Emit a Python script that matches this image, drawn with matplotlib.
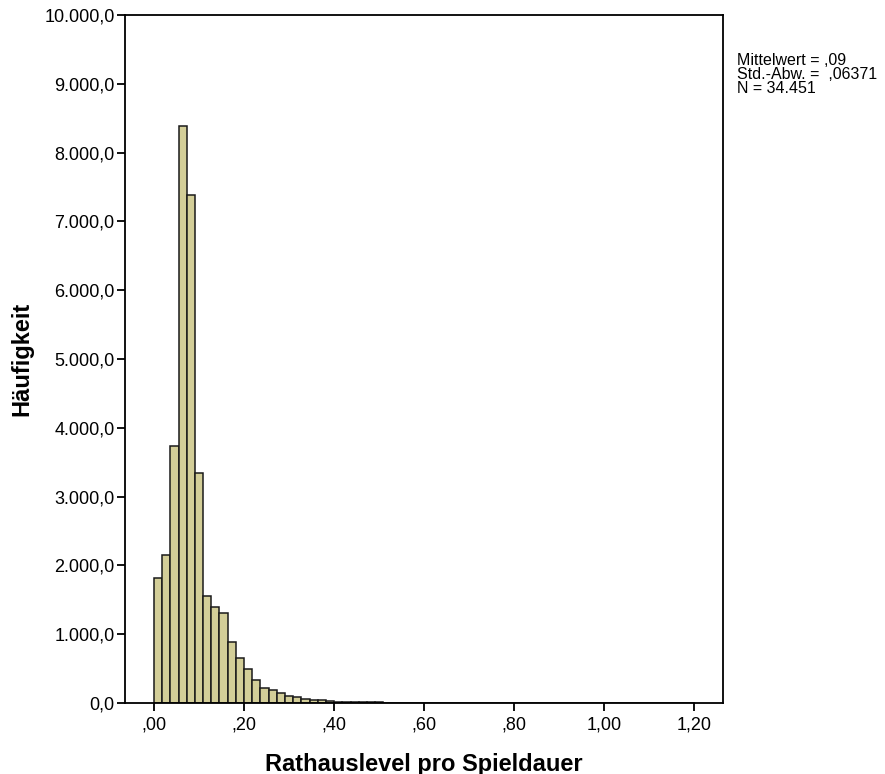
import numpy as np
import matplotlib.pyplot as plt
from matplotlib.ticker import FuncFormatter

plt.rcParams['font.family'] = ['Liberation Sans', 'DejaVu Sans']

# Histogrammdaten
bin_width = 0.0182
counts = [1820, 2150, 3740, 8380, 7390, 3350, 1555, 1390, 1315, 885,
          650, 495, 340, 220, 190, 140, 95, 87, 63, 50,
          39, 25, 20, 16, 13, 11, 9, 8, 7, 6,
          5, 5, 4, 3, 3, 3, 2, 2, 2, 2,
          1, 2, 1, 1, 1, 1, 1, 1, 0, 1,
          1, 0, 1, 0, 0, 1, 0, 0, 0, 0,
          0, 0, 1, 0, 0, 0]
stats_lines = ["Mittelwert = ,09", "Std.-Abw. =  ,06371", "N = 34.451"]

edges = np.arange(len(counts)) * bin_width

fig = plt.figure(figsize=(8.85, 7.74), dpi=100)
ax = fig.add_axes([0.1412, 0.0917, 0.8169 - 0.1412, 0.9806 - 0.0917])

ax.bar(edges, counts, width=bin_width, align='edge', color='#d3ce98',
       edgecolor='#1a1a1a', linewidth=1.1)

ax.set_xlim(-0.0644, 1.264)
ax.set_ylim(0, 10000)
ax.set_xticks(np.arange(0, 1.21, 0.2))
ax.set_yticks(np.arange(0, 10001, 1000))


def fmt_x(v, pos):
    s = f"{v:.2f}".replace('.', ',')
    return s[1:] if s.startswith('0') else s


def fmt_y(v, pos):
    s = f"{v:,.1f}"
    return s.replace(',', 'X').replace('.', ',').replace('X', '.')


ax.xaxis.set_major_formatter(FuncFormatter(fmt_x))
ax.yaxis.set_major_formatter(FuncFormatter(fmt_y))
ax.tick_params(direction='out', length=6, width=1.3, labelsize=13, colors='black')
ax.tick_params(axis='y', pad=1.5)
for sp in ax.spines.values():
    sp.set_linewidth(1.3)

ax.set_xlabel('Rathauslevel pro Spieldauer', fontsize=17, fontweight='bold', labelpad=14)
ax.set_ylabel('Häufigkeit', fontsize=17, fontweight='bold', labelpad=8)

# Statistik-Box rechts oben
for i, line in enumerate(stats_lines):
    fig.text(737 / 885, 1 - (65 + i * 14) / 774, line, fontsize=11.5,
             va='baseline', ha='left')

fig.savefig('out.png', dpi=100)
